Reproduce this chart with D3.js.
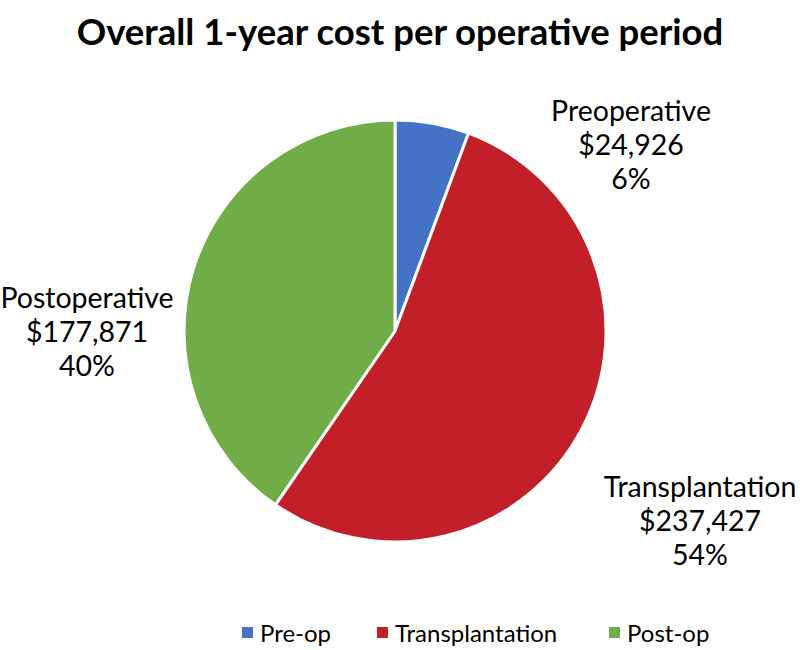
<!DOCTYPE html>
<html>
<head>
<meta charset="utf-8">
<script src="https://cdn.jsdelivr.net/npm/d3@7"></script>
<style>
  body { margin: 0; background: #fff; }
  text { font-family: Lato, "Open Sans", sans-serif; fill: #000; }
</style>
</head>
<body>
<script>
"use strict";
// chart data
const categories = ["Preoperative", "Transplantation", "Postoperative"];
const legendNames = ["Pre-op", "Transplantation", "Post-op"];
const costs = [24926, 237427, 177871];
const colors = ["#4472C4", "#C21F28", "#70AD47"];

(function() {
    const svgSize = { width: 800, height: 650 };
    const center = { x: 395, y: 331 };
    const radius = 211;
    // label centres relative to the pie centre
    const labelOffset = [[236, -186], [305, 190], [-308, 1]];

    const svg = d3.select("body").append("svg")
        .attr("width", svgSize.width)
        .attr("height", svgSize.height);

    svg.append("text")
        .attr("x", 400)
        .attr("y", 45)
        .attr("text-anchor", "middle")
        .style("font-size", "36.5px")
        .style("font-weight", "bold")
        .text("Overall 1-year cost per operative period");

    const total = d3.sum(costs);
    const pie = d3.pie().sort(null).value(d => d);
    const arc = d3.arc().innerRadius(0).outerRadius(radius);

    const g = svg.append("g").attr("transform", `translate(${center.x},${center.y})`);

    const slices = pie(costs);
    g.selectAll("path")
        .data(slices)
        .enter()
        .append("path")
            .attr("d", arc)
            .attr("fill", (d, i) => colors[i])
            .attr("stroke", "#fff")
            .attr("stroke-width", 3)
            .attr("stroke-linejoin", "round");

    const fmt = d3.format("$,");
    const labels = g.selectAll(".lbl")
        .data(slices)
        .enter()
        .append("text")
            .attr("class", "lbl")
            .attr("text-anchor", "middle")
            .style("font-size", "28.5px")
            .attr("transform", (d, i) => `translate(${labelOffset[i][0]},${labelOffset[i][1]})`);

    labels.each(function(d, i) {
        const lines = [categories[i], fmt(costs[i]), Math.round(costs[i] / total * 100) + "%"];
        d3.select(this).selectAll("tspan")
            .data(lines)
            .enter()
            .append("tspan")
                .attr("x", 0)
                .attr("y", (l, j) => (j - 1) * 34 + 10)
                .text(l => l);
    });

    // legend
    const legendX = [242, 377, 609];
    const legend = svg.append("g").attr("transform", "translate(0,633)");
    const items = legend.selectAll("g")
        .data(legendNames)
        .enter()
        .append("g")
            .attr("transform", (d, i) => `translate(${legendX[i]},0)`);
    items.append("rect")
        .attr("x", 0).attr("y", -6)
        .attr("width", 11).attr("height", 11)
        .attr("fill", (d, i) => colors[i]);
    items.append("text")
        .attr("x", 18)
        .attr("y", 9)
        .style("font-size", "24px")
        .text(d => d);
})();
</script>
</body>
</html>
